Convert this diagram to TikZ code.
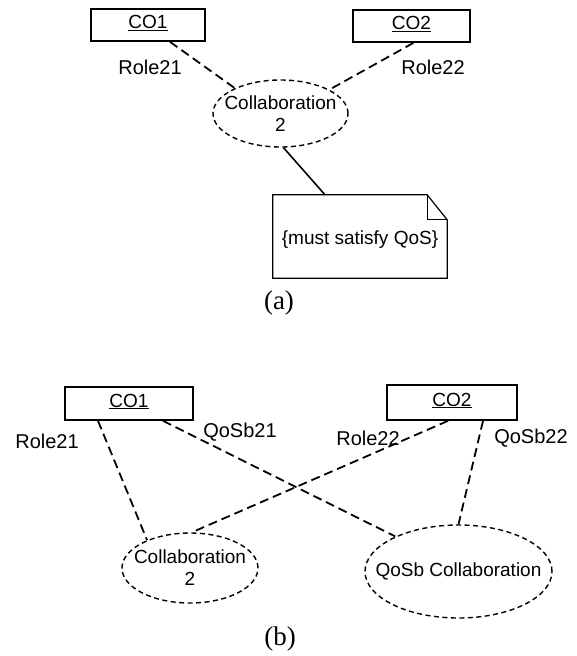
\documentclass[tikz,border=0pt]{standalone}
\usepackage{fontspec}
\setmainfont{Liberation Sans}
\newfontfamily\capfont{Liberation Serif}
\usetikzlibrary{shapes.geometric}
\begin{document}
\begin{tikzpicture}[x=1pt,y=-1pt,
  lbl/.style={font=\fontsize{20}{22}\selectfont, inner sep=0pt},
  intext/.style={font=\fontsize{19}{22}\selectfont, inner sep=0pt, align=center},
  obj/.style={draw, line width=1.7pt, rectangle, inner sep=0pt, font=\fontsize{19}{22}\selectfont, text height=0.92em, text depth=0.2em},
  collab/.style={draw, ellipse, dash pattern=on 5pt off 3.5pt, line width=1.4pt, inner sep=0pt},
  link/.style={dash pattern=on 9pt off 5pt, line width=1.8pt},
  notebody/.style={line width=1.2pt},
  figcaption/.style={font=\capfont\fontsize{27}{30}\selectfont, inner sep=0pt}
]
\useasboundingbox (0,0) rectangle (577,656);

% ---------- (a) ----------
\node[obj, minimum width=114pt, minimum height=32pt] (co1a) at (148,25) {\underline{CO1}};
\node[obj, minimum width=117pt, minimum height=32pt] (co2a) at (411.5,26) {\underline{CO2}};
\node[lbl] (r21a) at (150,67) {Role21};
\node[lbl] (r22a) at (433,67) {Role22};
\node[collab, minimum width=135pt, minimum height=67pt] (ca) at (280.5,113.5) {};
\node[intext] (cat) at (ca.center) {Collaboration\\2};
\draw[link] ([xshift=22pt]co1a.south) -- (ca.151);
\draw[link] ([xshift=2pt]co2a.south) -- (ca.26);

\node[minimum width=174pt, minimum height=83pt, inner sep=0pt] (note) at (360,236.5) {};
\draw[notebody] (note.north west) -- ([xshift=-20pt]note.north east) -- ([yshift=-25pt]note.north east) -- (note.south east) -- (note.south west) -- cycle;
\draw[notebody] ([xshift=-20pt]note.north east) -- ([xshift=-20pt,yshift=-25pt]note.north east) -- ([yshift=-25pt]note.north east);
\node[intext] (notet) at (360,240) {\{must satisfy QoS\}};
\draw[line width=1.6pt] (ca.-85) -- ([xshift=-35pt]note.north);

\node[figcaption] (capa) at (279,303) {(a)};

% ---------- (b) ----------
\node[obj, minimum width=128pt, minimum height=33pt] (co1b) at (129,403.5) {\underline{CO1}};
\node[obj, minimum width=130pt, minimum height=35pt] (co2b) at (452,402.5) {\underline{CO2}};
\node[lbl] (r21b) at (47,441) {Role21};
\node[lbl] (q21b) at (240,432) {QoSb21};
\node[lbl] (r22b) at (368,438) {Role22};
\node[lbl] (q22b) at (531,438) {QoSb22};

\node[collab, minimum width=136pt, minimum height=70pt] (cb) at (190,568) {};
\node[intext] (cbt) at (cb.center) {Collaboration\\2};
\node[collab, minimum width=187pt, minimum height=93pt] (qb) at (458.5,571.5) {};
\node[intext] (qbt) at (qb.center) {QoSb Collaboration};

\draw[link] ([xshift=-31pt]co1b.south) -- (cb.147);
\draw[link] ([xshift=34pt]co1b.south) -- (qb.151);
\draw[link] ([xshift=-4pt]co2b.south) -- (cb.87);
\draw[link] ([xshift=31pt]co2b.south) -- (qb.north);

\node[figcaption] (capb) at (280,639) {(b)};
\end{tikzpicture}
\end{document}
